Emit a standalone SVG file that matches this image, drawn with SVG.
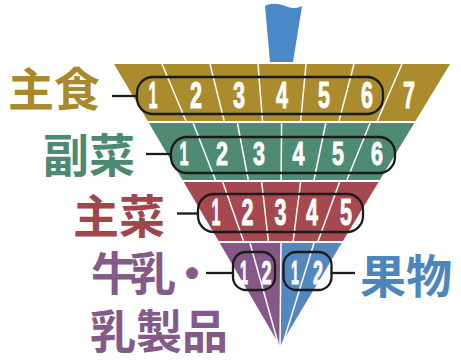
<svg xmlns="http://www.w3.org/2000/svg" width="461" height="361" viewBox="0 0 461 361">
<style>
.lbl{font-family:"Noto Sans CJK JP","Noto Sans CJK SC",sans-serif;font-weight:700;font-size:46px}
.num{font-family:"Liberation Sans Narrow","Liberation Sans",sans-serif;font-weight:700;fill:#fff;stroke:#fff;stroke-width:0.9;text-anchor:middle}
.n34{font-size:36px}
.n32{font-size:33px}
.div{stroke:#fff;stroke-width:1.5;fill:none}
.pill{fill:none;stroke:#1b1b1b;stroke-width:2.3}
.con{stroke:#1b1b1b;stroke-width:2.3}
</style>
<rect width="461" height="361" fill="#fff"/>
<g id="handle">
<path d="M265,6 C272,2 281,4 288,7 C294,9 298,8 302,6 L293,62 L270,62 Z" fill="#4a88c8"/>
</g>
<g id="shushoku">
<polygon points="114,64 450,64 415.5,121 147.7,121" fill="#aa8b2d"/>
<g class="div">
<line x1="162" y1="64" x2="186" y2="121"/><line x1="210" y1="64" x2="224.2" y2="121"/><line x1="258" y1="64" x2="262.5" y2="121"/><line x1="306" y1="64" x2="300.7" y2="121"/><line x1="354" y1="64" x2="339" y2="121"/><line x1="402" y1="64" x2="377.3" y2="121"/>
</g>
<rect class="pill" x="137" y="77" width="246" height="37" rx="16"/>
<text class="num n34" x="153" y="108" textLength="9" lengthAdjust="spacingAndGlyphs">1</text>
<text class="num n34" x="196" y="108" textLength="12" lengthAdjust="spacingAndGlyphs">2</text>
<text class="num n34" x="239" y="108" textLength="12" lengthAdjust="spacingAndGlyphs">3</text>
<text class="num n34" x="282" y="108" textLength="12" lengthAdjust="spacingAndGlyphs">4</text>
<text class="num n34" x="324" y="108" textLength="12" lengthAdjust="spacingAndGlyphs">5</text>
<text class="num n34" x="367" y="108" textLength="12" lengthAdjust="spacingAndGlyphs">6</text>
<text class="num n34" x="409" y="108" textLength="12" lengthAdjust="spacingAndGlyphs">7</text>
<text class="lbl" x="8" y="106" fill="#a88a2c">主食</text>
</g>
<g id="fukusai">
<polygon points="148.9,123 414.3,123 379.8,180 182.5,180" fill="#4e8b72"/>
<g class="div">
<line x1="193.1" y1="123" x2="215.4" y2="180"/><line x1="237.4" y1="123" x2="248.3" y2="180"/><line x1="281.6" y1="123" x2="281.1" y2="180"/><line x1="325.8" y1="123" x2="314" y2="180"/><line x1="370.1" y1="123" x2="346.9" y2="180"/>
</g>
<rect class="pill" x="171" y="137" width="224" height="36" rx="16"/>
<text class="num n32" x="184" y="165" textLength="9" lengthAdjust="spacingAndGlyphs">1</text>
<text class="num n32" x="222" y="165" textLength="12" lengthAdjust="spacingAndGlyphs">2</text>
<text class="num n32" x="259" y="165" textLength="12" lengthAdjust="spacingAndGlyphs">3</text>
<text class="num n32" x="298.5" y="165" textLength="12" lengthAdjust="spacingAndGlyphs">4</text>
<text class="num n32" x="338" y="165" textLength="12" lengthAdjust="spacingAndGlyphs">5</text>
<text class="num n32" x="377" y="165" textLength="12" lengthAdjust="spacingAndGlyphs">6</text>
<text class="lbl" x="43" y="172" fill="#4b8a70">副菜</text>
</g>
<g id="shusai">
<polygon points="183.7,182 378.6,182 342.9,241 218.6,241" fill="#a5484f"/>
<g class="div">
<line x1="222.7" y1="182" x2="243.5" y2="241"/><line x1="261.7" y1="182" x2="268.3" y2="241"/><line x1="300.6" y1="182" x2="293.2" y2="241"/><line x1="339.6" y1="182" x2="318.1" y2="241"/>
</g>
<rect class="pill" x="198" y="194" width="165" height="38" rx="16"/>
<text class="num n34" x="216" y="225" textLength="9" lengthAdjust="spacingAndGlyphs">1</text>
<text class="num n34" x="247.5" y="225" textLength="12" lengthAdjust="spacingAndGlyphs">2</text>
<text class="num n34" x="280.5" y="225" textLength="12" lengthAdjust="spacingAndGlyphs">3</text>
<text class="num n34" x="312" y="225" textLength="12" lengthAdjust="spacingAndGlyphs">4</text>
<text class="num n34" x="346" y="225" textLength="12" lengthAdjust="spacingAndGlyphs">5</text>
<text class="lbl" x="73" y="233" fill="#a2464c">主菜</text>
</g>
<g id="milk">
<polygon points="219.7,243 281,243 280,346" fill="#865888"/>
<line class="div" x1="250" y1="243" x2="278" y2="343"/>
<rect class="pill" x="233" y="252" width="42" height="38" rx="13"/>
<text class="num n32" x="244" y="283.5" textLength="8" lengthAdjust="spacingAndGlyphs">1</text>
<text class="num n32" x="266.5" y="283.5" textLength="10" lengthAdjust="spacingAndGlyphs">2</text>
<text class="lbl" fill="#845a88" letter-spacing="-7" x="91" y="290">牛乳・</text>
<text class="lbl" fill="#845a88" x="90" y="348">乳製品</text>
</g>
<g id="fruit">
<polygon points="281,243 341.7,243 280,346" fill="#5388be"/>
<line class="div" x1="314" y1="243" x2="283" y2="343"/>
<rect class="pill" x="283.5" y="252" width="48" height="38" rx="13"/>
<text class="num n32" x="295" y="283.5" textLength="8" lengthAdjust="spacingAndGlyphs">1</text>
<text class="num n32" x="318" y="283.5" textLength="10" lengthAdjust="spacingAndGlyphs">2</text>
<text class="lbl" x="360" y="293" fill="#4c86bd">果物</text>
</g>
<line x1="281" y1="243" x2="280" y2="346" stroke="#fff" stroke-width="1.5"/>
<g id="connectors">
<line class="con" x1="112" y1="96" x2="137" y2="96"/>
<line class="con" x1="146" y1="154" x2="171" y2="154"/>
<line class="con" x1="177" y1="213.5" x2="198" y2="213.5"/>
<line class="con" x1="206" y1="273" x2="233" y2="273"/>
<line class="con" x1="331.5" y1="273" x2="355" y2="273"/>
</g>
</svg>
